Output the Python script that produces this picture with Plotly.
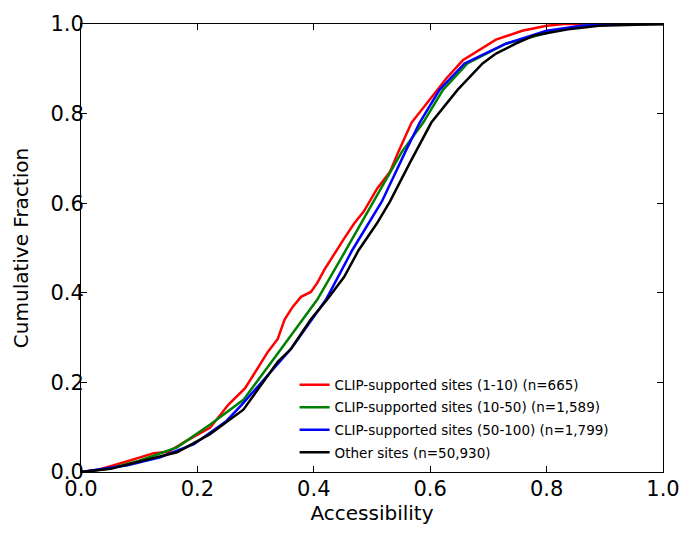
import plotly.graph_objects as go

# Accessibility (x) and cumulative fraction (y)
red_x = [0, 0.03, 0.08, 0.125, 0.15, 0.182, 0.222, 0.253, 0.282, 0.304, 0.321, 0.338, 0.35, 0.364,
         0.378, 0.395, 0.406, 0.418, 0.435, 0.452, 0.469, 0.486, 0.509, 0.531, 0.545, 0.568, 0.599,
         0.628, 0.656, 0.684, 0.713, 0.758, 0.8, 0.83, 1.0]
red_y = [0, 0.005, 0.024, 0.042, 0.045, 0.07, 0.099, 0.15, 0.187, 0.231, 0.268, 0.297, 0.341, 0.369,
         0.391, 0.402, 0.422, 0.451, 0.487, 0.521, 0.554, 0.582, 0.633, 0.670, 0.714, 0.78, 0.831,
         0.879, 0.919, 0.941, 0.965, 0.985, 0.996, 1.0, 1.0]

green_x = [0, 0.05, 0.1, 0.165, 0.222, 0.268, 0.279, 0.344, 0.406, 0.455, 0.503, 0.551, 0.588,
           0.622, 0.664, 0.73, 0.815, 0.86, 0.92, 1.0]
green_y = [0, 0.008, 0.025, 0.055, 0.106, 0.150, 0.161, 0.275, 0.385, 0.495, 0.604, 0.714, 0.780,
           0.853, 0.912, 0.956, 0.985, 0.996, 1.0, 1.0]

blue_x = [0, 0.08, 0.136, 0.194, 0.25, 0.276, 0.361, 0.421, 0.466, 0.517, 0.557, 0.582, 0.616,
          0.659, 0.73, 0.80, 0.86, 0.93, 1.0]
blue_y = [0, 0.015, 0.033, 0.062, 0.114, 0.150, 0.275, 0.385, 0.495, 0.604, 0.714, 0.780, 0.853,
          0.912, 0.956, 0.985, 0.996, 1.0, 1.0]

black_x = [0, 0.051, 0.108, 0.165, 0.221, 0.279, 0.338, 0.361, 0.395, 0.423, 0.452, 0.477, 0.508,
           0.531, 0.565, 0.602, 0.647, 0.69, 0.713, 0.747, 0.78, 0.837, 0.89, 0.95, 1.0]
black_y = [0, 0.007, 0.026, 0.044, 0.084, 0.139, 0.246, 0.275, 0.341, 0.385, 0.435, 0.495, 0.554,
           0.604, 0.69, 0.78, 0.853, 0.912, 0.934, 0.956, 0.975, 0.988, 0.996, 0.999, 1.0]

series = [
    ("CLIP-supported sites (1-10) (n=665)", red_x, red_y, "#ff0000"),
    ("CLIP-supported sites (10-50) (n=1,589)", green_x, green_y, "#008000"),
    ("CLIP-supported sites (50-100) (n=1,799)", blue_x, blue_y, "#0000ff"),
    ("Other sites (n=50,930)", black_x, black_y, "#000000"),
]

tick_vals = [0, 0.2, 0.4, 0.6, 0.8, 1.0]
tick_text = ["0.0", "0.2", "0.4", "0.6", "0.8", "1.0"]

fig = go.Figure()
for i, (name, xs, ys, col) in enumerate(series):
    fig.add_trace(go.Scatter(x=xs, y=ys, mode="lines", name=name, legendgroup=str(i),
                             line=dict(color=col, width=2.5)))

axis_common = dict(
    range=[0, 1], tickvals=tick_vals, ticktext=tick_text, ticks="inside", ticklen=6,
    tickcolor="black", showline=True, linecolor="black", linewidth=1, mirror="ticks",
    showgrid=False, zeroline=False, tickfont=dict(size=21, color="black"),
)

fig.update_layout(
    width=692, height=536,
    margin=dict(l=81, r=23, t=20, b=64),
    paper_bgcolor="white", plot_bgcolor="white",
    font=dict(family="DejaVu Sans", color="black"),
    xaxis=dict(**axis_common, ticklabelstandoff=-2,
               title=dict(text="Accessibility", font=dict(size=20), standoff=2)),
    yaxis=dict(**axis_common, ticklabelstandoff=-8,
               title=dict(text="Cumulative Fraction", font=dict(size=20), standoff=16)),
    legend=dict(x=0.367, y=0.229, xanchor="left", yanchor="top", bgcolor="rgba(0,0,0,0)",
                font=dict(size=13.5), tracegroupgap=2, itemwidth=30),
    showlegend=True,
)

fig.write_html("out.html")
